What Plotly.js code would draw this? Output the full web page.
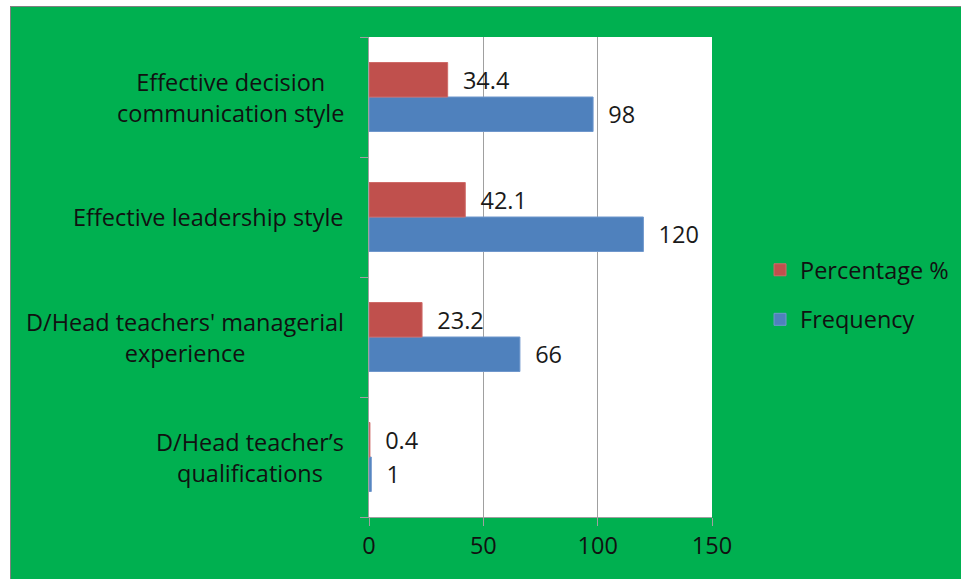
<!DOCTYPE html>
<html>
<head>
<meta charset="utf-8">
<script src="https://cdn.plot.ly/plotly-3.0.1.min.js"></script>
<style>
  html, body { margin: 0; padding: 0; background: #ffffff; }
  #wrap { position: absolute; left: 10px; top: 6px; border-left: 1px solid #808080; border-top: 1px solid #808080; }
  #chart { width: 950px; height: 572px; }
</style>
</head>
<body>
<div id="wrap"><div id="chart"></div></div>
<script>
const categories = [
  "D/Head teacher’s qualifications",
  "D/Head teachers' managerial experience",
  "Effective leadership style",
  "Effective decision communication style"
];
const categoryLabels = [
  "D/Head teacher’s<br>qualifications",
  "D/Head teachers' managerial<br>experience",
  "Effective leadership style",
  "Effective decision<br>communication style"
];
const frequency = [1, 66, 120, 98];
const percentage = [0.4, 23.2, 42.1, 34.4];
const xTicks = [0, 50, 100, 150];

const FONT = "Open Sans, Liberation Sans, Arial, sans-serif";
const FS = 23.5;
const pad = "\u00a0\u00a0";

const traces = [
  {
    type: "bar", orientation: "h", name: "Frequency",
    y: categories, x: frequency,
    text: frequency.map(v => pad + v), textposition: "outside",
    textfont: {family: FONT, size: FS, color: "#1a1a1a"},
    marker: {color: "#4F81BD", line: {color: "#6f97cc", width: 1}},
    cliponaxis: false, legendgroup: "f", legendrank: 2, hoverinfo: "x+y"
  },
  {
    type: "bar", orientation: "h", name: "Percentage %",
    y: categories, x: percentage,
    text: percentage.map(v => pad + v), textposition: "outside",
    textfont: {family: FONT, size: FS, color: "#1a1a1a"},
    marker: {color: "#C0504D", line: {color: "#cf6b68", width: 1}},
    cliponaxis: false, legendgroup: "p", legendrank: 1, hoverinfo: "x+y"
  }
];

const annotations = categories.map((c, i) => ({
  xref: "paper", yref: "y", x: -0.066, y: c,
  text: categoryLabels[i], showarrow: false,
  xanchor: "right", yanchor: "middle", align: "center",
  font: {family: FONT, size: FS, color: "#111111"}
}));

const layout = {
  width: 950, height: 572,
  paper_bgcolor: "#00B050", plot_bgcolor: "#ffffff",
  margin: {l: 358, r: 249, t: 30, b: 62, pad: 0, autoexpand: false},
  barmode: "group", bargap: 0.425, bargroupgap: 0,
  showlegend: true,
  legend: {
    x: 1.14, y: 0.4625, xanchor: "left", yanchor: "middle",
    bgcolor: "rgba(0,0,0,0)", tracegroupgap: 16,
    font: {family: FONT, size: FS, color: "#111111"}
  },
  xaxis: {
    range: [0, 150], tickvals: xTicks, ticktext: xTicks.map(String),
    showgrid: true, gridcolor: "#a0a0a0", gridwidth: 1,
    zeroline: false, showline: true, linecolor: "#a0a0a0", linewidth: 1,
    ticks: "outside", ticklen: 8, tickcolor: "#a0a0a0",
    tickfont: {family: FONT, size: FS, color: "#111111"}, fixedrange: true
  },
  yaxis: {
    type: "category", categoryorder: "array", categoryarray: categories,
    showticklabels: false, showgrid: false, zeroline: false,
    showline: true, linecolor: "#a0a0a0", linewidth: 1,
    ticks: "outside", tickson: "boundaries", ticklen: 8, tickcolor: "#a0a0a0",
    fixedrange: true
  },
  annotations: annotations
};

Plotly.newPlot("chart", traces, layout, {displayModeBar: false, staticPlot: true});
</script>
</body>
</html>
